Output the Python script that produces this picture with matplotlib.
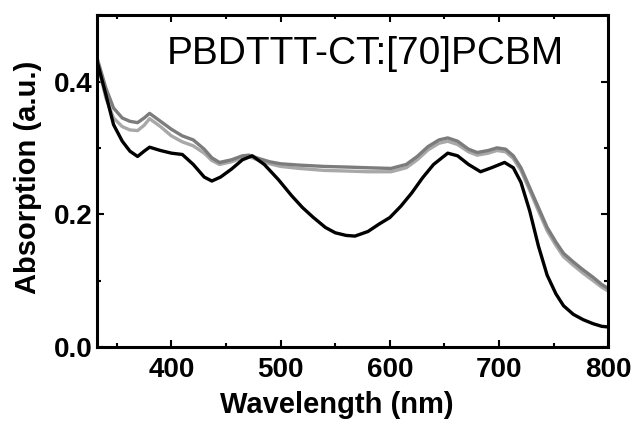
import numpy as np
import matplotlib
matplotlib.use('Agg')
import matplotlib.pyplot as plt
from matplotlib.ticker import MultipleLocator

plt.rcParams['font.family'] = ['Liberation Sans', 'DejaVu Sans']

# black curve
wl_black = [332, 340, 347, 355, 362, 369, 375, 380, 390, 400, 410, 420, 430, 437,
            445, 455, 465, 474, 485, 498, 510, 520, 530, 541, 550, 560, 568, 580,
            590, 600, 610, 620, 630, 640, 653, 662, 672, 683, 693, 705, 713, 720,
            728, 736, 744, 752, 759, 768, 777, 786, 794, 800]
abs_black = [0.43, 0.38, 0.335, 0.31, 0.295, 0.287, 0.295, 0.301, 0.296, 0.292, 0.29,
             0.275, 0.256, 0.250, 0.256, 0.268, 0.282, 0.288, 0.275, 0.252, 0.228,
             0.21, 0.195, 0.18, 0.172, 0.168, 0.167, 0.174, 0.185, 0.195, 0.212,
             0.232, 0.255, 0.275, 0.292, 0.288, 0.275, 0.264, 0.270, 0.278, 0.270,
             0.248, 0.205, 0.152, 0.108, 0.080, 0.062, 0.049, 0.041, 0.035, 0.031, 0.030]

# grey curves
wl_grey = [332, 340, 347, 355, 362, 369, 375, 380, 390, 400, 410, 420, 430, 437, 444,
           455, 465, 471, 480, 490, 500, 517, 540, 562, 580, 601, 615, 625, 635, 645,
           653, 662, 672, 680, 690, 698, 706, 713, 720, 728, 736, 744, 752, 759, 768,
           777, 786, 794, 800]
abs_grey1 = [0.435, 0.39, 0.36, 0.345, 0.34, 0.338, 0.345, 0.352, 0.34, 0.328, 0.318,
             0.312, 0.298, 0.285, 0.278, 0.282, 0.288, 0.289, 0.284, 0.279, 0.276,
             0.274, 0.272, 0.271, 0.27, 0.269, 0.275, 0.287, 0.302, 0.312, 0.315,
             0.31, 0.298, 0.293, 0.296, 0.300, 0.298, 0.288, 0.27, 0.24, 0.21, 0.18,
             0.158, 0.141, 0.128, 0.116, 0.105, 0.094, 0.088]
abs_grey2 = [0.43, 0.375, 0.345, 0.332, 0.327, 0.326, 0.334, 0.344, 0.332, 0.318, 0.309,
             0.303, 0.292, 0.281, 0.275, 0.279, 0.285, 0.287, 0.281, 0.276, 0.272,
             0.269, 0.266, 0.265, 0.264, 0.264, 0.27, 0.282, 0.297, 0.307, 0.31,
             0.305, 0.294, 0.289, 0.292, 0.296, 0.294, 0.284, 0.266, 0.236, 0.205,
             0.175, 0.153, 0.136, 0.123, 0.111, 0.1, 0.09, 0.084]

fig = plt.figure(figsize=(6.35, 4.21), dpi=100)
ax = fig.add_axes([0.153, 0.176, 0.805, 0.788])

ax.plot(wl_grey, abs_grey2, color='#a8a8a8', lw=2.4, solid_capstyle='round')
ax.plot(wl_grey, abs_grey1, color='#7c7c7c', lw=2.4, solid_capstyle='round')
ax.plot(wl_black, abs_black, color='black', lw=2.4, solid_capstyle='round')

ax.set_xlim(332, 800)
ax.set_ylim(0, 0.5)
ax.xaxis.set_major_locator(MultipleLocator(100))
ax.xaxis.set_minor_locator(MultipleLocator(50))
ax.yaxis.set_minor_locator(MultipleLocator(0.1))
ax.set_yticks([0.0, 0.2, 0.4])
ax.set_yticklabels(['0.0', '0.2', '0.4'])

ax.tick_params(which='both', direction='in', top=True, right=True, width=1.5)
ax.tick_params(which='major', length=5)
ax.tick_params(which='minor', length=3)
ax.tick_params(axis='x', pad=7)
ax.tick_params(axis='y', pad=3)
for lab in ax.get_xticklabels() + ax.get_yticklabels():
    lab.set_fontsize(20)
    lab.set_fontweight('bold')

for sp in ax.spines.values():
    sp.set_linewidth(2.2)

ax.set_xlabel('Wavelength (nm)', fontsize=21, fontweight='bold', va='center')
ax.set_ylabel('Absorption (a.u.)', fontsize=21, fontweight='bold', va='center')
ax.xaxis.set_label_coords(0.468, -0.175)
ax.yaxis.set_label_coords(-0.135, 0.51)

ax.text(396, 0.442, 'PBDTTT-CT:[70]PCBM', fontsize=28, va='center', ha='left')

fig.savefig('out.png', dpi=100)
